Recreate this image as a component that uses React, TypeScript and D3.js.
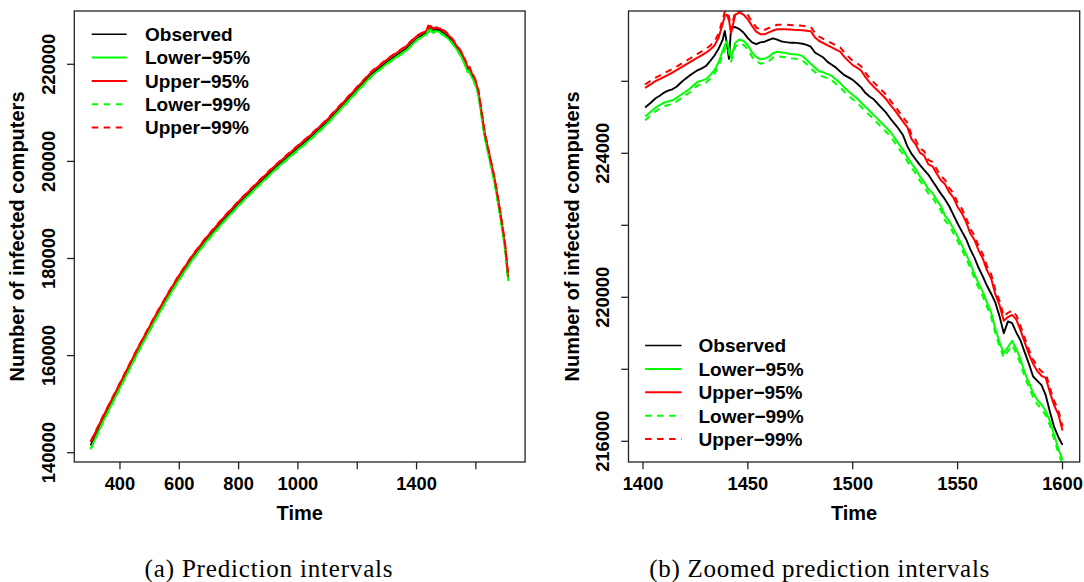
import React from 'react';
import * as d3 from 'd3';

// ---------------- data ----------------
const TIME = [
  301, 344, 402, 460, 518, 564, 599, 645, 692, 750, 808, 866, 924, 982, 1040, 1098, 1156, 1203, 1249, 1307, 1365,
  1401, 1404, 1406, 1408, 1410, 1412, 1414, 1416, 1418, 1420, 1422, 1424, 1426, 1428, 1430, 1432, 1434, 1436, 1438,
  1439, 1440, 1441, 1442, 1444, 1446, 1448, 1450, 1452, 1454, 1456, 1458, 1460, 1462, 1464, 1466, 1468, 1470, 1472,
  1474, 1476, 1478, 1480, 1482, 1484, 1486, 1488, 1490, 1492, 1494, 1496, 1498, 1500, 1502, 1504, 1506, 1508, 1510,
  1512, 1514, 1516, 1518, 1520, 1522, 1524, 1526, 1528, 1530, 1532, 1534, 1536, 1538, 1540, 1542, 1544, 1546, 1548,
  1550, 1552, 1554, 1556, 1558, 1560, 1562, 1564, 1566, 1568, 1570, 1572, 1574, 1576, 1578, 1580, 1582, 1584, 1586,
  1588, 1590, 1592, 1594, 1596, 1598, 1600,
  1608, 1619, 1630, 1647, 1664, 1681, 1698, 1709,
];

const OBSERVED = [
  141500, 147000, 154000, 161000, 167600, 172500, 176000, 180200, 183900, 188000, 191800, 195300, 198700, 201800, 204800, 208100, 211900, 215000, 218000, 220800, 223200,
  225270, 225420, 225528, 225600, 225683, 225740, 225778, 225850, 225961, 226060, 226150, 226230, 226306, 226360, 226425, 226560, 226710, 226900, 227150,
  227400, 227050, 226620, 227480, 227509, 227450, 227350, 227200, 227080, 227030, 227080, 227100, 227150, 227195, 227160, 227110, 227090, 227073, 227073,
  227060, 227045, 227010, 226960, 226800, 226730, 226660, 226540, 226460, 226380, 226270, 226170, 226110, 226040, 225940, 225830, 225680, 225580, 225500,
  225370, 225250, 225120, 224960, 224820, 224670, 224500, 224200, 223990, 223830, 223680, 223540, 223410, 223230, 223060, 222880, 222720, 222530, 222290,
  222050, 221830, 221620, 221340, 221100, 220820, 220580, 220320, 220100, 219850, 219470, 219000, 219330, 219280, 219020, 218800, 218470, 218150, 217800,
  217680, 217560, 217280, 216820, 216400, 216120, 215900,
  214360, 209900, 205440, 200640, 195820, 189640, 182780, 175920,
];

const LOWER_95 = [
  140800, 146550, 153600, 160620, 167240, 172140, 175650, 179850, 183560, 187650, 191460, 194960, 198360, 201460, 204460, 207760, 211560, 214660, 217660, 220460, 222860,
  225020, 225170, 225267, 225340, 225406, 225440, 225472, 225540, 225620, 225700, 225780, 225880, 225981, 226020, 226060, 226170, 226300, 226520, 226850,
  227000, 227110, 226900, 226660, 227073, 227160, 227120, 227000, 226800, 226680, 226610, 226630, 226680, 226780, 226820, 226800, 226790, 226760, 226750,
  226740, 226700, 226600, 226480, 226380, 226280, 226250, 226200, 226150, 226050, 225950, 225830, 225720, 225620, 225530, 225410, 225295, 225180, 225060,
  224950, 224830, 224710, 224600, 224420, 224250, 224100, 223900, 223720, 223560, 223360, 223200, 223010, 222900, 222700, 222540, 222260, 222120, 221900,
  221680, 221450, 221200, 220950, 220650, 220380, 220150, 219850, 219580, 219120, 218750, 218450, 218620, 218790, 218560, 218280, 217900, 217630, 217340,
  217150, 217020, 216840, 216560, 216180, 215800, 215480,
  213930, 209470, 205010, 200210, 195390, 189210, 182350, 175490,
];

const UPPER_95 = [
  142150, 147550, 154500, 161500, 168080, 172980, 176470, 180660, 184370, 188460, 192250, 195760, 199160, 202260, 205260, 208560, 212360, 215460, 218470, 221270, 223700,
  225820, 225930, 226009, 226060, 226120, 226180, 226239, 226310, 226378, 226450, 226520, 226590, 226656, 226720, 226795, 226880, 226990, 227200, 227600,
  227814, 227850, 227700, 227340, 227850, 227910, 227850, 227720, 227540, 227380, 227310, 227306, 227360, 227410, 227445, 227445, 227445, 227440, 227430,
  227425, 227415, 227405, 227390, 227220, 227120, 227060, 227000, 226940, 226880, 226822, 226680, 226560, 226450, 226380, 226300, 226120, 225970, 225850,
  225740, 225620, 225500, 225340, 225200, 225040, 224880, 224730, 224400, 224250, 224020, 223940, 223700, 223640, 223440, 223250, 223140, 222920, 222770,
  222510, 222340, 222100, 221780, 221600, 221300, 221080, 220750, 220520, 220080, 219780, 219350, 219450, 219510, 219380, 219080, 218750, 218420, 218150,
  217950, 217820, 217760, 217360, 217000, 216750, 216300,
  214740, 210280, 205820, 201020, 196200, 190020, 183160, 176300,
];

const LOWER_99 = [
  140680, 146430, 153480, 160500, 167120, 172020, 175530, 179730, 183440, 187530, 191340, 194840, 198240, 201340, 204340, 207640, 211440, 214540, 217540, 220340, 222750,
  224920, 225070, 225165, 225240, 225300, 225340, 225370, 225440, 225520, 225600, 225680, 225780, 225880, 225920, 225960, 226070, 226200, 226420, 226740,
  226890, 227000, 226790, 226550, 226960, 227050, 227010, 226880, 226680, 226560, 226490, 226510, 226560, 226660, 226700, 226680, 226670, 226640, 226630,
  226620, 226580, 226480, 226360, 226260, 226160, 226130, 226080, 226030, 225930, 225830, 225710, 225600, 225500, 225410, 225290, 225175, 225060, 224940,
  224830, 224710, 224590, 224480, 224300, 224130, 223980, 223780, 223600, 223440, 223240, 223080, 222890, 222780, 222580, 222420, 222140, 222000, 221780,
  221560, 221330, 221080, 220830, 220530, 220260, 220030, 219730, 219460, 219000, 218630, 218330, 218500, 218670, 218440, 218160, 217780, 217510, 217220,
  217030, 216900, 216720, 216440, 216060, 215680, 215360,
  213810, 209350, 204890, 200090, 195270, 189090, 182230, 175370,
];

const UPPER_99 = [
  142300, 147680, 154620, 161620, 168200, 173100, 176590, 180780, 184490, 188580, 192370, 195880, 199280, 202380, 205380, 208680, 212480, 215580, 218590, 221390, 223810,
  225910, 226030, 226100, 226160, 226220, 226280, 226340, 226410, 226480, 226550, 226620, 226690, 226760, 226830, 226900, 226990, 227100, 227320, 227720,
  227930, 227960, 227800, 227440, 227960, 227950, 227960, 227840, 227660, 227500, 227430, 227430, 227480, 227530, 227570, 227570, 227570, 227565, 227555,
  227550, 227540, 227530, 227510, 227340, 227240, 227180, 227120, 227060, 227000, 226940, 226800, 226680, 226570, 226500, 226420, 226240, 226090, 225970,
  225860, 225740, 225620, 225460, 225320, 225160, 225000, 224850, 224520, 224370, 224140, 224060, 223820, 223760, 223560, 223370, 223260, 223040, 222890,
  222630, 222460, 222220, 221900, 221720, 221420, 221200, 220870, 220640, 220200, 219900, 219470, 219570, 219630, 219500, 219200, 218870, 218540, 218270,
  218070, 217940, 217880, 217480, 217120, 216870, 216420,
  214860, 210400, 205940, 201140, 196320, 190140, 183280, 176420,
];

const SERIES_NAMES = ['Observed', 'Lower\u221295%', 'Upper\u221295%', 'Lower\u221299%', 'Upper\u221299%'];
const SERIES_COLORS = ['#000000', '#00FF00', '#FF0000', '#00FF00', '#FF0000'];
const SERIES_DASHED = [false, false, false, true, true];

const LEFT_X_TICKS = [400, 600, 800, 1000, 1200, 1400, 1600];
const LEFT_X_LABELS = [400, 600, 800, 1000, 1400];
const LEFT_Y_TICKS = [140000, 160000, 180000, 200000, 220000];
const LEFT_Y_LABELS = [140000, 160000, 180000, 200000, 220000];
const RIGHT_X_TICKS = [1400, 1450, 1500, 1550, 1600];
const RIGHT_X_LABELS = [1400, 1450, 1500, 1550, 1600];
const RIGHT_Y_TICKS = [216000, 218000, 220000, 222000, 224000, 226000];
const RIGHT_Y_LABELS = [216000, 220000, 224000];

const X_TITLE = 'Time';
const Y_TITLE = 'Number of infected computers';
const CAPTIONS = ['(a) Prediction intervals', '(b) Zoomed prediction intervals'];

// ---------------- layout ----------------
const W = 1084;
const H = 582;
const SANS = '"Liberation Sans", Arial, Helvetica, sans-serif';
const SERIF = '"Liberation Serif", "Times New Roman", serif';
const AXIS_COLOR = '#222';

type PanelCfg = {
  id: string;
  left: number; right: number; top: number; bottom: number;
  xDomain: [number, number]; yDomain: [number, number];
  tMin: number; tMax: number;
  xTicks: number[]; xLabels: number[]; yTicks: number[]; yLabels: number[];
  legend: { x0: number; x1: number; tx: number; y0: number; dy: number };
  caption: string; captionX: number; captionW: number;
};

const PANELS: PanelCfg[] = [
  {
    id: 'a', left: 74.3, right: 525.1, top: 11, bottom: 462,
    xDomain: [246, 1766], yDomain: [138085, 230978],
    tMin: 0, tMax: 10000,
    xTicks: LEFT_X_TICKS, xLabels: LEFT_X_LABELS, yTicks: LEFT_Y_TICKS, yLabels: LEFT_Y_LABELS,
    legend: { x0: 91.7, x1: 126.7, tx: 145, y0: 34.3, dy: 23.3 },
    caption: CAPTIONS[0], captionX: 268.6, captionW: 248,
  },
  {
    id: 'b', left: 628.5, right: 1079.7, top: 11, bottom: 462,
    xDomain: [1393.1, 1608.2], yDomain: [215425, 227953],
    tMin: 1401, tMax: 1600,
    xTicks: RIGHT_X_TICKS, xLabels: RIGHT_X_LABELS, yTicks: RIGHT_Y_TICKS, yLabels: RIGHT_Y_LABELS,
    legend: { x0: 645.1, x1: 681.6, tx: 698.5, y0: 345.5, dy: 23.4 },
    caption: CAPTIONS[1], captionX: 819.3, captionW: 340,
  },
];

const SERIES = [OBSERVED, LOWER_95, UPPER_95, LOWER_99, UPPER_99];

function Panel({ cfg }: { cfg: PanelCfg }) {
  const x = d3.scaleLinear().domain(cfg.xDomain).range([cfg.left, cfg.right]);
  const y = d3.scaleLinear().domain(cfg.yDomain).range([cfg.bottom, cfg.top]);
  const idx = TIME.map((_, i) => i).filter((i) => TIME[i] >= cfg.tMin && TIME[i] <= cfg.tMax);
  const clipId = `clip-${cfg.id}`;
  const cy = (cfg.top + cfg.bottom) / 2;
  const cx = (cfg.left + cfg.right) / 2;

  return (
    <g>
      <defs>
        <clipPath id={clipId}>
          <rect x={cfg.left} y={cfg.top} width={cfg.right - cfg.left} height={cfg.bottom - cfg.top} />
        </clipPath>
      </defs>
      <g clipPath={`url(#${clipId})`}>
        {SERIES.map((vals, s) => {
          const line = d3
            .line<number>()
            .x((i) => x(TIME[i]))
            .y((i) => y(vals[i]));
          return (
            <path
              key={s}
              d={line(idx) || ''}
              fill="none"
              stroke={SERIES_COLORS[s]}
              strokeWidth={s === 0 ? 1.9 : 2}
              strokeDasharray={SERIES_DASHED[s] ? '6.5 5.5' : undefined}
              strokeLinejoin="round"
            />
          );
        })}
      </g>
      <rect
        x={cfg.left}
        y={cfg.top}
        width={cfg.right - cfg.left}
        height={cfg.bottom - cfg.top}
        fill="none"
        stroke={AXIS_COLOR}
        strokeWidth={1.3}
      />
      {/* x axis */}
      {cfg.xTicks.map((t) => (
        <line key={`xt${t}`} x1={x(t)} x2={x(t)} y1={cfg.bottom} y2={cfg.bottom + 7.3} stroke={AXIS_COLOR} strokeWidth={1.3} />
      ))}
      {cfg.xLabels.map((t) => (
        <text key={`xl${t}`} x={x(t)} y={cfg.bottom + 28} textAnchor="middle" fontFamily={SANS} fontWeight="bold" fontSize={18.3} fill="#000">
          {t}
        </text>
      ))}
      {/* y axis */}
      {cfg.yTicks.map((v) => (
        <line key={`yt${v}`} x1={cfg.left - 7.3} x2={cfg.left} y1={y(v)} y2={y(v)} stroke={AXIS_COLOR} strokeWidth={1.3} />
      ))}
      {cfg.yLabels.map((v) => (
        <text
          key={`yl${v}`}
          transform={`translate(${cfg.left - 19.5},${y(v)}) rotate(-90)`}
          textAnchor="middle"
          fontFamily={SANS}
          fontWeight="bold"
          fontSize={18.3}
          fill="#000"
        >
          {v}
        </text>
      ))}
      {/* titles */}
      <text x={cx} y={520} textAnchor="middle" fontFamily={SANS} fontWeight="bold" fontSize={20} fill="#000">
        {X_TITLE}
      </text>
      <text
        transform={`translate(${cfg.left - 50},${cy}) rotate(-90)`}
        textAnchor="middle"
        fontFamily={SANS}
        fontWeight="bold"
        fontSize={20}
        fill="#000"
      >
        {Y_TITLE}
      </text>
      {/* legend */}
      {SERIES_NAMES.map((name, s) => {
        const ly = cfg.legend.y0 + s * cfg.legend.dy;
        return (
          <g key={name}>
            <line
              x1={cfg.legend.x0}
              x2={cfg.legend.x1}
              y1={ly}
              y2={ly}
              stroke={SERIES_COLORS[s]}
              strokeWidth={s === 0 ? 1.5 : 2}
              strokeDasharray={SERIES_DASHED[s] ? '6.5 5.5' : undefined}
            />
            <text x={cfg.legend.tx} y={ly + 6.8} fontFamily={SANS} fontWeight="bold" fontSize={19} fill="#000">
              {name}
            </text>
          </g>
        );
      })}
      {/* caption */}
      <text
        x={cfg.captionX}
        y={577}
        textAnchor="middle"
        fontFamily={SERIF}
        fontSize={25}
        fill="#000"
        textLength={cfg.captionW}
        lengthAdjust="spacing"
      >
        {cfg.caption}
      </text>
    </g>
  );
}

export default function App() {
  return (
    <svg
      width={W}
      height={H}
      viewBox={`0 0 ${W} ${H}`}
      style={{ position: 'absolute', left: 0, top: 0, background: '#fff' }}
    >
      <rect x={0} y={0} width={W} height={H} fill="#fff" />
      {PANELS.map((p) => (
        <Panel key={p.id} cfg={p} />
      ))}
    </svg>
  );
}
